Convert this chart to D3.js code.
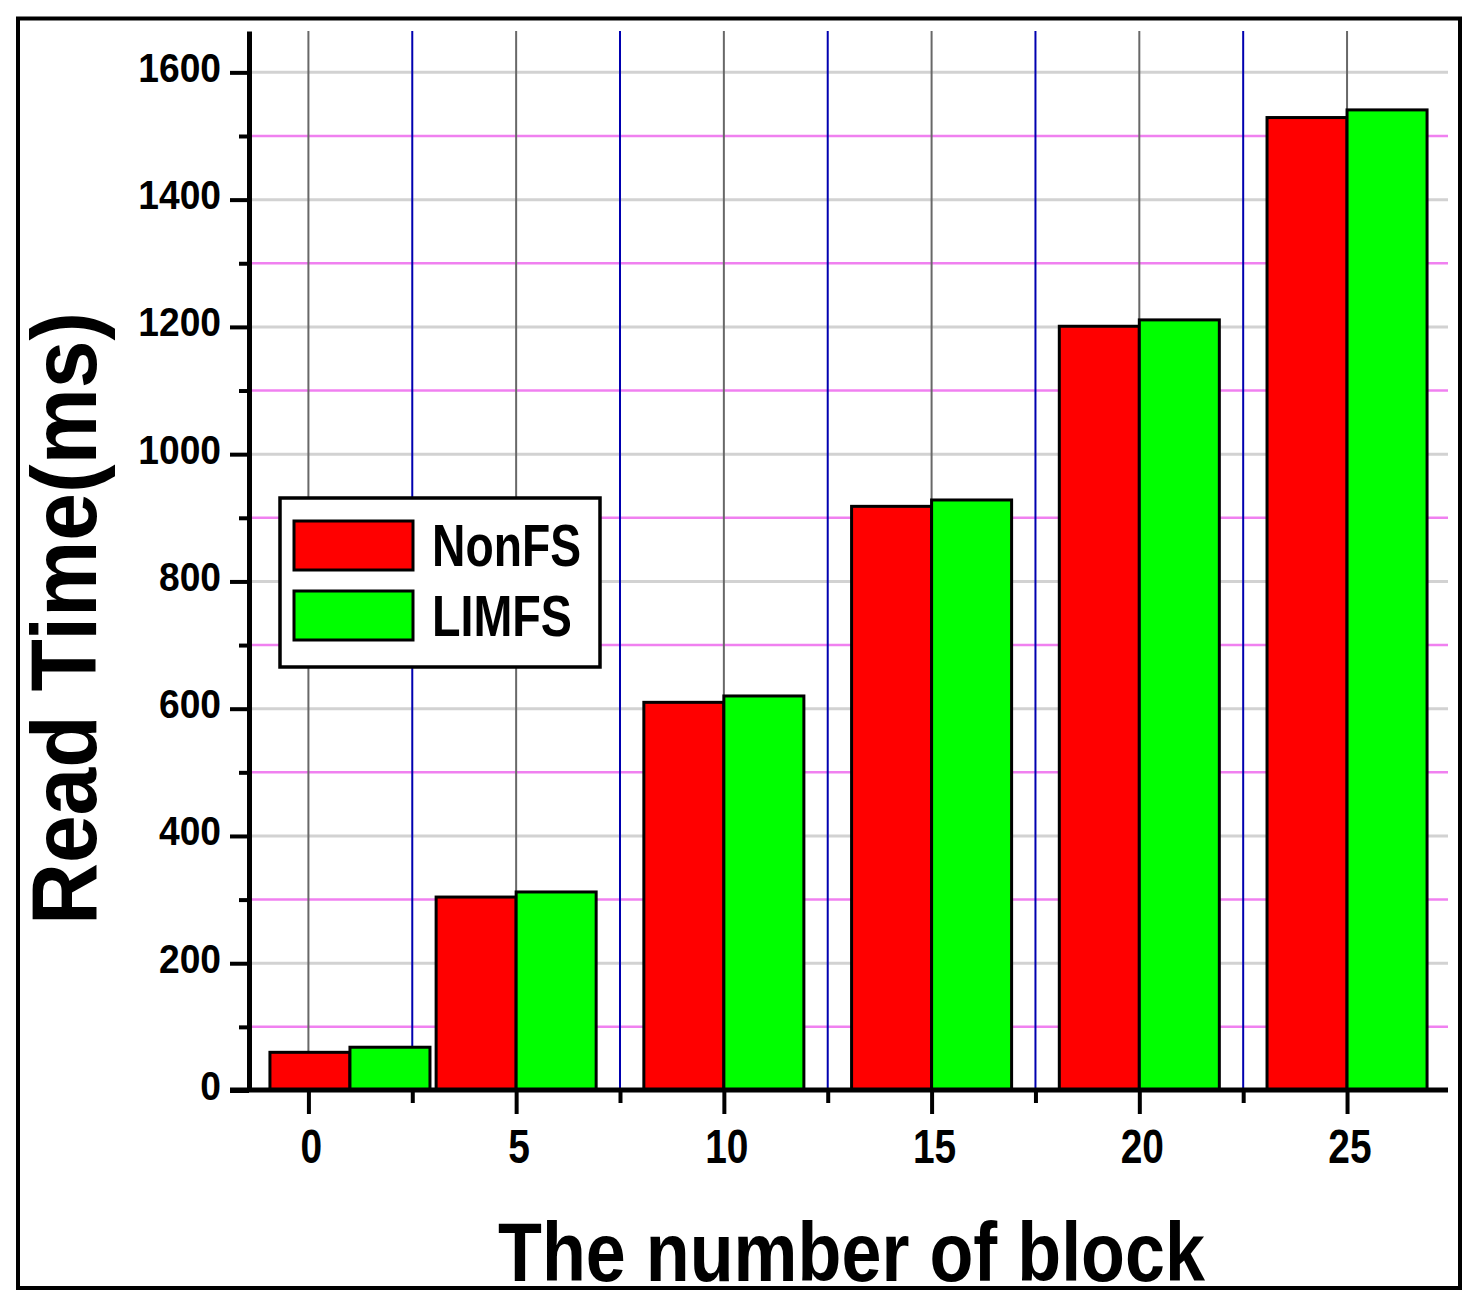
<!DOCTYPE html>
<html>
<head>
<meta charset="utf-8">
<script src="https://cdn.jsdelivr.net/npm/d3@7"></script>
<style>
  html, body { margin: 0; padding: 0; background: #fff; }
  svg { display: block; }
  text { font-family: "Liberation Sans", Arial, sans-serif; font-weight: bold; fill: #000; }
</style>
</head>
<body>
<svg id="chart" width="1474" height="1302"></svg>
<script>
// ---- data ----
const blockTicks = [0, 5, 10, 15, 20, 25];          // x tick labels
const blockPos   = [1, 5, 10, 15, 20, 25];          // group positions on the x axis
const seriesNames = ["NonFS", "LIMFS"];
const nonFS = [60, 304, 610, 918, 1201, 1529];
const limFS = [68, 312, 620, 928, 1211, 1541];
const yTicks = [0, 200, 400, 600, 800, 1000, 1200, 1400, 1600];
const yMinorTicks = [100, 300, 500, 700, 900, 1100, 1300, 1500];
const xMinorTicks = [2.5, 7.5, 12.5, 17.5, 22.5];
const xTitle = "The number of block";
const yTitle = "Read Time(ms)";

// ---- layout ----
const svg = d3.select("#chart");
const L = 249, R = 1448, T = 31, B = 1090.5;
const x = d3.scaleLinear().domain([-1.43, 27.43]).range([L, R]);
const y = d3.scaleLinear().domain([0, 1665]).range([B, T]);
const barW = 1.926;
const colors = ["#ff0000", "#00ff00"];

// outer frame
svg.append("rect").attr("x", 18).attr("y", 18.5).attr("width", 1442).attr("height", 1269.5)
  .attr("fill", "#fff").attr("stroke", "#000").attr("stroke-width", 4);

// gridlines
const grid = svg.append("g");
grid.selectAll(".hmaj").data(yTicks.filter(d => d > 0)).join("line")
  .attr("x1", L).attr("x2", R).attr("y1", d => y(d)).attr("y2", d => y(d))
  .attr("stroke", "#d2d2d2").attr("stroke-width", 3);
grid.selectAll(".hmin").data(yMinorTicks).join("line")
  .attr("x1", L).attr("x2", R).attr("y1", d => y(d)).attr("y2", d => y(d))
  .attr("stroke", "#f080f0").attr("stroke-width", 2.5);
grid.selectAll(".vmaj").data(blockTicks).join("line")
  .attr("x1", d => x(d)).attr("x2", d => x(d)).attr("y1", T).attr("y2", B)
  .attr("stroke", "#686868").attr("stroke-width", 2);
grid.selectAll(".vmin").data(xMinorTicks).join("line")
  .attr("x1", d => x(d)).attr("x2", d => x(d)).attr("y1", T).attr("y2", B)
  .attr("stroke", "#0000b0").attr("stroke-width", 2);

// bars
const bars = svg.append("g");
[nonFS, limFS].forEach((vals, s) => {
  bars.selectAll(".s" + s).data(vals).join("rect")
    .attr("x", (d, i) => s === 0 ? x(blockPos[i] - barW) : x(blockPos[i]))
    .attr("width", (d, i) => x(blockPos[i]) - x(blockPos[i] - barW))
    .attr("y", d => y(d))
    .attr("height", d => y(0) - y(d))
    .attr("fill", colors[s]).attr("stroke", "#000").attr("stroke-width", 3);
});

// axes
function styleAxis(g, w) {
  g.select(".domain").attr("stroke", "#000").attr("stroke-width", w);
  g.selectAll(".tick line").attr("stroke", "#000").attr("stroke-width", 4);
}
const yAxis = svg.append("g").attr("transform", `translate(${L},0)`)
  .call(d3.axisLeft(y).tickValues(yTicks).tickFormat(d3.format("d"))
    .tickSize(19).tickSizeOuter(0).tickPadding(9));
styleAxis(yAxis, 5);
yAxis.selectAll(".tick text")
  .attr("font-size", 40).attr("dy", null).attr("y", 9)
  .attr("transform", "scale(0.93,1)")
  .attr("x", -28 / 0.93)
  .attr("font-family", "'Liberation Sans', Arial, sans-serif").attr("font-weight", "bold");
const yMinor = svg.append("g").attr("transform", `translate(${L},0)`)
  .call(d3.axisLeft(y).tickValues(yMinorTicks).tickSize(10).tickSizeOuter(0).tickFormat(""));
yMinor.select(".domain").remove();
yMinor.selectAll(".tick line").attr("stroke", "#000").attr("stroke-width", 4);

const xAxis = svg.append("g").attr("transform", `translate(0,${1090})`)
  .call(d3.axisBottom(x).tickValues(blockTicks).tickFormat(d3.format("d"))
    .tickSize(24).tickSizeOuter(0));
styleAxis(xAxis, 5);
xAxis.select(".domain").attr("d", `M${230},0H${R}`);
xAxis.selectAll(".tick text")
  .attr("font-size", 48).attr("dy", null).attr("y", 73).attr("x", 3)
  .attr("transform", "scale(0.81,1)")
  .attr("font-family", "'Liberation Sans', Arial, sans-serif").attr("font-weight", "bold");
const xMinor = svg.append("g").attr("transform", `translate(0,${1090})`)
  .call(d3.axisBottom(x).tickValues(xMinorTicks).tickSize(13).tickSizeOuter(0).tickFormat(""));
xMinor.select(".domain").remove();
xMinor.selectAll(".tick line").attr("stroke", "#000").attr("stroke-width", 4);

// axis titles
svg.append("text").attr("x", 851.5).attr("y", 1281).attr("text-anchor", "middle")
  .attr("font-size", 84).attr("textLength", 707).attr("lengthAdjust", "spacingAndGlyphs")
  .text(xTitle);
svg.append("text").attr("transform", "translate(96,618.5) rotate(-90)").attr("text-anchor", "middle")
  .attr("font-size", 92).attr("textLength", 613).attr("lengthAdjust", "spacingAndGlyphs")
  .text(yTitle);

// legend
const lg = svg.append("g");
lg.append("rect").attr("x", 280).attr("y", 498).attr("width", 320).attr("height", 169)
  .attr("fill", "#fff").attr("stroke", "#000").attr("stroke-width", 3.5);
const legendRows = [
  { name: seriesNames[0], color: colors[0], y: 521, base: 566, len: 149, fs: 60 },
  { name: seriesNames[1], color: colors[1], y: 591, base: 636, len: 140, fs: 58 }
];
legendRows.forEach(r => {
  lg.append("rect").attr("x", 294).attr("y", r.y).attr("width", 119).attr("height", 49)
    .attr("fill", r.color).attr("stroke", "#000").attr("stroke-width", 3);
  lg.append("text").attr("x", 432).attr("y", r.base).attr("font-size", r.fs)
    .attr("textLength", r.len).attr("lengthAdjust", "spacingAndGlyphs").text(r.name);
});
</script>
</body>
</html>
